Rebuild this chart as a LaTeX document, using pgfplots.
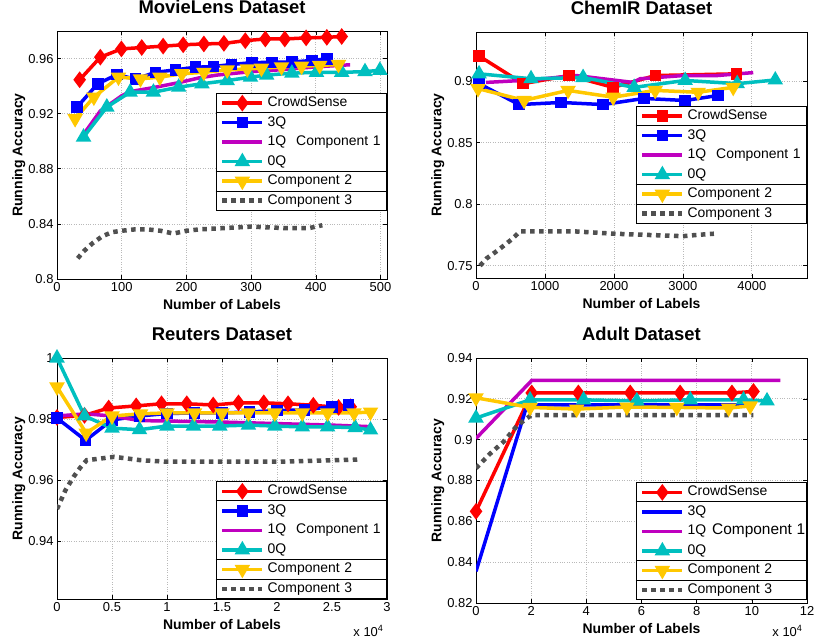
\documentclass[border=0pt]{standalone}
\usepackage{pgfplots}
\pgfplotsset{compat=1.18}
\usepackage{fontspec}
\setmainfont{Liberation Sans}
\usetikzlibrary{calc}
\definecolor{mgc}{RGB}{191,0,191}
\definecolor{cyc}{RGB}{0,191,191}
\definecolor{ylw}{RGB}{255,200,0}
\definecolor{gry}{RGB}{80,80,80}
\pgfplotsset{
  panel/.style={
    scale only axis, anchor=north west,
    grid=major, major grid style={gray!55, dotted, line width=0.7bp},
    axis line style={line width=0.8bp},
    every tick/.style={black, line width=0.6bp}, major tick length=4bp,
    tick label style={font=\fontsize{13}{15}\selectfont},
    title style={font=\fontsize{18.5}{21}\selectfont\bfseries, at={(0.5,1)}, anchor=base, yshift=12bp},
    xlabel style={font=\fontsize{14}{16}\selectfont\bfseries, at={(0.5,0)}, anchor=base, yshift=-30bp},
    ylabel style={font=\fontsize{14}{16}\selectfont\bfseries, at={(-0.105,0.5)}, anchor=base},
    xlabel={Number of Labels}, ylabel={Running Accuracy},
    /pgf/number format/assume math mode=true,
    scaled ticks=false, /pgf/number format/1000 sep={},
    yticklabel style={/pgf/number format/fixed, /pgf/number format/precision=2},
    legend cell align=left,
    legend image code/.code={\draw[mark repeat=2,mark phase=2] plot coordinates {(0bp,0bp) (20bp,0bp) (40bp,0bp)};},
    legend style={draw=black, line width=0.8bp, fill=white, inner xsep=4bp, inner ysep=0bp,
      column sep=2bp, row sep=0bp, font=\fontsize{14}{16}\selectfont,
      nodes={text height=11bp, text depth=4bp, inner ysep=2.25bp, inner xsep=1bp, text width=114bp, align=left}},
  },
  cs/.style={red, line width=3.5bp, mark=diamond*, mark size=5.5bp, mark options={solid}},
  csq/.style={red, line width=3.5bp, mark=square*, mark size=4bp, mark options={solid}},
  q3/.style={blue, line width=3.5bp, mark=square*, mark size=4bp, mark options={solid}},
  q3n/.style={blue, line width=3.5bp, no marks},
  q1/.style={mgc, line width=3.5bp, no marks},
  q0/.style={cyc, line width=3.5bp, mark=triangle*, mark size=5.5bp, mark options={solid}},
  c2/.style={ylw, line width=3.5bp, mark=triangle*, mark size=5.5bp, mark options={solid, rotate=180}},
  c3/.style={gry, line width=4.5bp, dash pattern=on 4.5bp off 4.5bp, no marks},
}
\newcommand{\legseps}[1]{\foreach \f in {1,4,5} {\draw[line width=0.8bp] ($(#1.north west)!\f/6!(#1.south west)$) -- ($(#1.north east)!\f/6!(#1.south east)$);}}
\newcommand{\entries}[1][\hspace{10bp}]{%
  \addlegendentry{CrowdSense}\addlegendentry{3Q}\addlegendentry{\mbox{1Q#1Component 1}}%
  \addlegendentry{0Q}\addlegendentry{Component 2}\addlegendentry{Component 3}}
\begin{document}
\begin{tikzpicture}
\useasboundingbox (0,0) rectangle (815bp,-641bp);
% ---------------- MovieLens
\begin{axis}[panel, at={(57bp,-31bp)}, width=330bp, height=248bp,
  title={MovieLens Dataset}, xmin=0, xmax=510, ymin=0.8, ymax=0.98,
  xtick={0,100,...,500}, ytick={0.8,0.84,0.88,0.92,0.96},
  legend style={name=L1, at={(1,0.75)}, anchor=north east}]
\addplot[cs] coordinates {(35,0.9446)(67,0.961)(99.5,0.967)(131,0.968)(164,0.969)(195,0.970)(227,0.9706)(258,0.971)(291,0.973)(322,0.9742)(352,0.9742)(385,0.975)(417,0.9754)(440,0.976)};
\addplot[q3] coordinates {(31,0.9248)(63,0.9417)(93,0.9484)(121,0.945)(152,0.950)(183,0.9518)(214,0.9537)(242,0.9542)(270,0.9557)(301,0.957)(332,0.9573)(363,0.9575)(394,0.9586)(417,0.9598)};
\addplot[q1] coordinates {(41,0.905)(67,0.922)(100,0.933)(113,0.936)(150,0.939)(188,0.9425)(220,0.946)(247,0.948)(300,0.9505)(350,0.952)(400,0.954)(453,0.9555)};
\addplot[q0] coordinates {(41,0.903)(77,0.9248)(113,0.9356)(149,0.9356)(188,0.9392)(224,0.9417)(263,0.944)(299,0.9465)(324,0.948)(363,0.9494)(401,0.950)(440,0.950)(476,0.9505)(499,0.9515)};
\addplot[c2] coordinates {(28,0.9164)(57,0.932)(95,0.9465)(129,0.9453)(159,0.9465)(193,0.949)(227,0.950)(263,0.9518)(294,0.9525)(316,0.953)(347,0.954)(378,0.9545)(406,0.955)(435,0.9557)};
\addplot[c3] coordinates {(32,0.815)(41,0.820)(55,0.826)(70,0.831)(85,0.834)(100,0.835)(120,0.836)(140,0.836)(160,0.835)(180,0.833)(200,0.835)(220,0.836)(260,0.837)(300,0.838)(350,0.837)(390,0.837)(410,0.839)};
\entries
\end{axis}
\legseps{L1}
% ---------------- ChemIR
\begin{axis}[panel, at={(476bp,-32bp)}, width=331bp, height=246bp,
  title={ChemIR Dataset}, xmin=0, xmax=4800, ymin=0.74, ymax=0.94,
  xtick={0,1000,...,4000}, ytick={0.75,0.8,0.85,0.9},
  legend style={name=L2, at={(1,0.699)}, anchor=north east}]
\addplot[csq] coordinates {(44,0.9205)(682,0.898)(1350,0.9046)(1988,0.895)(2600,0.9046)(3780,0.906)};
\addplot[q3] coordinates {(44,0.898)(624,0.881)(1234,0.8827)(1843,0.881)(2438,0.886)(3033,0.8843)(3512,0.8884)};
\addplot[q1] coordinates {(145,0.899)(798,0.901)(1451,0.9046)(2279,0.899)(2380,0.902)(3004,0.9046)(3498,0.9046)(4020,0.907)};
\addplot[q0] coordinates {(44,0.906)(798,0.902)(1553,0.903)(2293,0.895)(3033,0.9006)(3788,0.898)(4340,0.901)};
\addplot[c2] coordinates {(29,0.894)(697,0.8844)(1335,0.8925)(1988,0.887)(2598,0.8925)(3222,0.891)(3730,0.895)};
\addplot[c3] coordinates {(58,0.75)(155,0.756)(280,0.761)(420,0.767)(530,0.772)(640,0.778)(1000,0.778)(1400,0.778)(2000,0.776)(2500,0.775)(3000,0.774)(3200,0.775)(3450,0.776)};
\entries
\end{axis}
\legseps{L2}
% ---------------- Reuters
\begin{axis}[panel, at={(57bp,-358bp)}, width=330bp, height=241bp,
  title={Reuters Dataset}, xmin=0, xmax=3, ymin=0.921, ymax=1,
  xtick={0,0.5,...,3}, ytick={0.94,0.96,0.98,1},
  xticklabel style={/pgf/number format/fixed},
  legend style={name=L3, at={(1,0)}, anchor=south east}]
\addplot[cs] coordinates {(0,0.9805)(0.25,0.9812)(0.47,0.9836)(0.72,0.9843)(0.95,0.985)(1.18,0.985)(1.42,0.9846)(1.65,0.9853)(1.88,0.9853)(2.1,0.985)(2.33,0.9845)(2.56,0.9838)(2.67,0.984)};
\addplot[q3] coordinates {(0,0.9803)(0.26,0.973)(0.5,0.9797)(0.75,0.981)(1.0,0.9818)(1.25,0.982)(1.5,0.982)(1.75,0.9823)(2.0,0.9828)(2.25,0.983)(2.5,0.984)(2.65,0.9846)};
\addplot[q1] coordinates {(0,0.981)(0.26,0.9817)(0.5,0.981)(0.75,0.9795)(1.5,0.979)(2.0,0.9785)(2.5,0.978)(2.85,0.9775)};
\addplot[q0] coordinates {(0,1.0)(0.25,0.981)(0.5,0.977)(0.75,0.9765)(1.0,0.9777)(1.24,0.9777)(1.48,0.9777)(1.74,0.978)(1.98,0.9777)(2.23,0.9774)(2.46,0.9774)(2.71,0.9772)(2.85,0.9764)};
\addplot[c2] coordinates {(0,0.9905)(0.265,0.9754)(0.5,0.981)(0.76,0.9817)(1.0,0.982)(1.25,0.982)(1.5,0.982)(1.74,0.982)(1.98,0.982)(2.23,0.982)(2.46,0.982)(2.7,0.982)(2.85,0.9823)};
\addplot[c3] coordinates {(0,0.9505)(0.076,0.9566)(0.15,0.961)(0.21,0.964)(0.27,0.9665)(0.52,0.9676)(0.76,0.9665)(1.0,0.966)(1.5,0.966)(2.0,0.966)(2.5,0.9665)(2.76,0.9667)};
\entries
\end{axis}
\legseps{L3}
\node[anchor=base east, font=\fontsize{13}{15}\selectfont] at (387bp,-636bp) {x 10\textsuperscript{4}};
% ---------------- Adult
\begin{axis}[panel, at={(476bp,-358bp)}, width=331bp, height=245bp,
  title={Adult Dataset}, xmin=0, xmax=12, ymin=0.82, ymax=0.94,
  xtick={0,2,...,12}, ytick={0.82,0.84,...,0.94},
  legend style={name=L4, at={(1,0.012)}, anchor=south east}]
\addplot[cs] coordinates {(0,0.8649)(2.02,0.9229)(3.71,0.9229)(5.59,0.9229)(7.4,0.9229)(9.28,0.9229)(10.06,0.9236)};
\addplot[q3n] coordinates {(0,0.8355)(1.85,0.917)(10.0,0.917)};
\addplot[q1] coordinates {(0,0.9006)(2.02,0.929)(11.03,0.929)};
\addplot[q0] coordinates {(0,0.9106)(1.96,0.9195)(3.9,0.9195)(5.83,0.919)(7.77,0.9195)(9.7,0.9195)(10.55,0.919)};
\addplot[c2] coordinates {(0,0.9205)(1.96,0.9158)(3.65,0.915)(5.47,0.916)(7.28,0.9158)(9.16,0.9155)(9.94,0.9165)};
\addplot[c3] coordinates {(0,0.886)(0.5,0.893)(1.0,0.899)(1.5,0.907)(2.0,0.912)(10.06,0.912)};
\entries[\hspace{6bp}\fontsize{15.5}{16}\selectfont]
\end{axis}
\legseps{L4}
\node[anchor=base east, font=\fontsize{13}{15}\selectfont] at (806bp,-636bp) {x 10\textsuperscript{4}};
\end{tikzpicture}
\end{document}
